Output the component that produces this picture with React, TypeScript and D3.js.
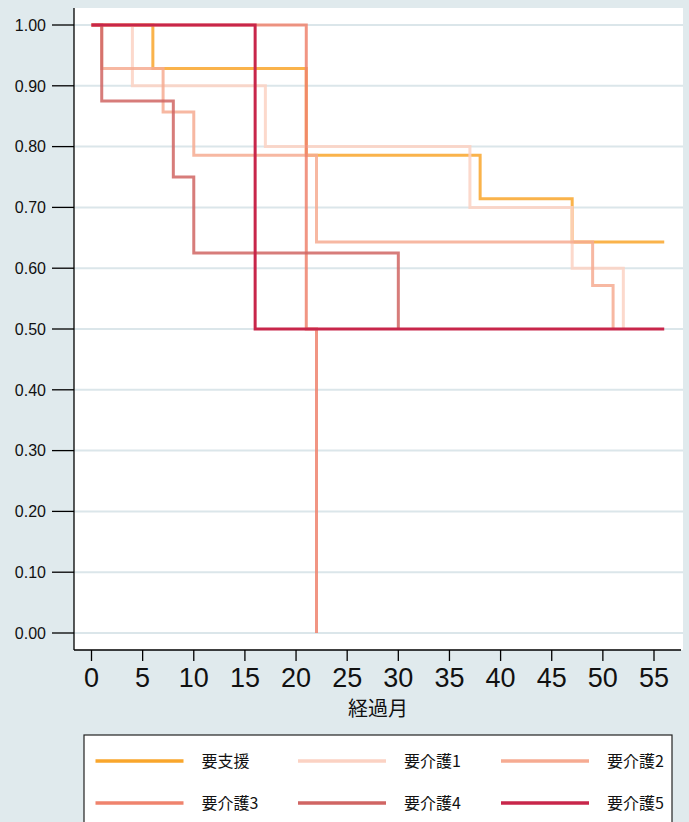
import React from "react";
import * as d3 from "d3";

const seriesNames = ["要支援", "要介護1", "要介護2", "要介護3", "要介護4", "要介護5"];
const seriesColors = ["#f9a62c", "#fbd2c3", "#f6ab92", "#ef836d", "#d06563", "#c8264a"];

const supportTimes = [0, 6, 21, 38, 47, 56];
const supportSurv = [1, 0.9286, 0.7857, 0.7143, 0.6429, 0.6429];
const care1Times = [0, 4, 17, 37, 47, 52];
const care1Surv = [1, 0.9, 0.8, 0.7, 0.6, 0.5];
const care2Times = [0, 1, 7, 10, 22, 49, 51];
const care2Surv = [1, 0.9286, 0.8571, 0.7857, 0.6429, 0.5714, 0.5];
const care3Times = [0, 21, 22];
const care3Surv = [1, 0.5, 0];
const care4Times = [0, 1, 8, 10, 30];
const care4Surv = [1, 0.875, 0.75, 0.625, 0.5];
const care5Times = [0, 16, 56];
const care5Surv = [1, 0.5, 0.5];

const xTicks = [0, 5, 10, 15, 20, 25, 30, 35, 40, 45, 50, 55];
const yTicks = [0, 0.1, 0.2, 0.3, 0.4, 0.5, 0.6, 0.7, 0.8, 0.9, 1.0];
const xTitle = "経過月";

const W = 689;
const H = 822;
const BG = "#e0eaed";
const GRID = "#dbe6ea";

export default function App() {
  const x = d3.scaleLinear().domain([0, 55]).range([91.5, 654]);
  const y = d3.scaleLinear().domain([0, 1]).range([633, 25]);
  const line = d3
    .line<[number, number]>()
    .x((d) => x(d[0]))
    .y((d) => y(d[1]))
    .curve(d3.curveStepAfter);

  const series = [
    [supportTimes, supportSurv],
    [care1Times, care1Surv],
    [care2Times, care2Surv],
    [care3Times, care3Surv],
    [care4Times, care4Surv],
    [care5Times, care5Surv],
  ].map(([t, s]) => t.map((v, i) => [v, s[i]] as [number, number]));

  const plotL = 74, plotR = 683, plotT = 8, plotB = 650;
  const font = "Liberation Sans, Arial, sans-serif";
  const cjk = "'Noto Sans CJK JP', sans-serif";

  const legendCols = [95.5, 298, 501];
  const legendRows = [761, 803];

  return (
    <svg
      width={W}
      height={H}
      style={{ position: "absolute", left: 0, top: 0, display: "block" }}
    >
      <rect x={0} y={0} width={W} height={H} fill={BG} />
      <rect x={plotL} y={plotT} width={plotR - plotL} height={plotB - plotT} fill="#ffffff" />
      {yTicks.map((t) => (
        <line key={"g" + t} x1={plotL} x2={plotR} y1={y(t)} y2={y(t)} stroke={GRID} strokeWidth={2} />
      ))}
      {series.map((pts, i) => (
        <path
          key={"s" + i}
          d={line(pts) || ""}
          fill="none"
          stroke={seriesColors[i]}
          strokeWidth={3}
          strokeOpacity={i === 5 ? 1 : 0.85}
        />
      ))}
      {/* axes */}
      <line x1={plotL} x2={plotL} y1={plotT} y2={plotB} stroke="#000" strokeWidth={1.3} />
      <line x1={plotL} x2={plotR - 2} y1={plotB} y2={plotB} stroke="#000" strokeWidth={1.3} />
      {yTicks.map((t) => (
        <g key={"yt" + t}>
          <line x1={52} x2={plotL} y1={y(t)} y2={y(t)} stroke="#000" strokeWidth={1.3} />
          <text x={46} y={y(t)} dy="0.36em" textAnchor="end" fontFamily={font} fontSize={16} fill="#111">
            {t.toFixed(2)}
          </text>
        </g>
      ))}
      {xTicks.map((t) => (
        <g key={"xt" + t}>
          <line x1={x(t)} x2={x(t)} y1={plotB} y2={661} stroke="#000" strokeWidth={1.3} />
          <text x={x(t)} y={687} textAnchor="middle" fontFamily={font} fontSize={27} fill="#111">
            {t}
          </text>
        </g>
      ))}
      <text x={378} y={716} textAnchor="middle" fontFamily={cjk} fontSize={20} fill="#111">
        {xTitle}
      </text>
      {/* legend */}
      <rect x={84} y={735} width={588} height={100} fill="#fff" stroke="#222" strokeWidth={1.2} />
      {seriesNames.map((n, i) => {
        const cx = legendCols[i % 3];
        const cy = legendRows[Math.floor(i / 3)];
        return (
          <g key={"l" + i}>
            <line x1={cx} x2={cx + 88} y1={cy} y2={cy} stroke={seriesColors[i]} strokeWidth={3.5} />
            <text x={cx + 106} y={cy} dy="0.36em" fontFamily={cjk} fontSize={16} fill="#111">
              {n}
            </text>
          </g>
        );
      })}
    </svg>
  );
}
